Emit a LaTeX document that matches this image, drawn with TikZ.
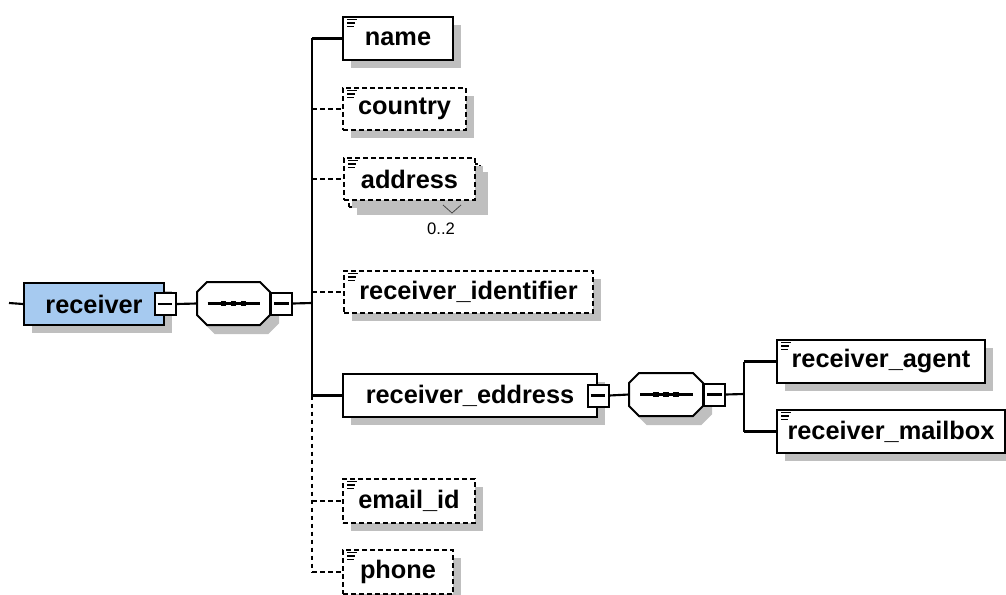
\documentclass[tikz,border=0pt]{standalone}
\usepackage{fontspec}
\setmainfont{Liberation Sans}
\usetikzlibrary{shadows}
\definecolor{rcvblue}{RGB}{166,202,240}
\tikzset{every picture/.style={line width=0.75pt},
	elem/.style={draw, line width=1.5pt, fill=white, anchor=north west, inner sep=0pt,
		font=\fontsize{19}{22}\selectfont\bfseries,
		drop shadow={shadow xshift=6pt, shadow yshift=-6pt, fill=black!25, opacity=1}},
	optelem/.style={elem, dash pattern=on 3.5pt off 2.5pt},
	seqbox/.style={inner sep=0pt, anchor=north west, minimum width=54pt, minimum height=31.5pt},
	minusbox/.style={draw, line width=1.5pt, fill=white, inner sep=0pt, minimum width=15.75pt, minimum height=16.5pt},
	conn/.style={line width=1.6pt},
	optconn/.style={conn, dash pattern=on 3.5pt off 2.5pt},
	icon/.style={line width=1.2pt}
}

\begin{document}
\begin{tikzpicture}[x=0.75pt,y=0.75pt,yscale=-1,xscale=1]
	\useasboundingbox (0,0) rectangle (1006,595);

	%Shape: Rectangle (root element)
	\node[elem, fill=rcvblue, minimum width=105pt, minimum height=31.5pt] (rcv) at (23,282) {receiver};
	\node[minusbox] (rm) at (rcv.east) {};
	% Sequence holders
	\node[seqbox] (seq1) at (197,282) {};
	\node[seqbox, minimum width=54.75pt] (seq2) at (629,373) {};

	%Shape: Octagon (sequence), shadow first
	\foreach \s in {seq1,seq2}{
		\foreach \dx/\fc/\dc in {8/black!25/black!25, 0/white/black}
			\draw[line width=1.5pt, fill=\fc, draw=\dc]
				([shift={(10+\dx,\dx)}]\s.north west) -- ([shift={(-10+\dx,\dx)}]\s.north east)
				-- ([shift={(\dx,10+\dx)}]\s.north east) -- ([shift={(\dx,-10+\dx)}]\s.south east)
				-- ([shift={(-10+\dx,\dx)}]\s.south east) -- ([shift={(10+\dx,\dx)}]\s.south west)
				-- ([shift={(\dx,-10+\dx)}]\s.south west) -- ([shift={(\dx,10+\dx)}]\s.north west) -- cycle;
	}
	\node[minusbox, anchor=west] (sm1) at (seq1.east) {};
	\node[minusbox, anchor=west] (sm2) at (seq2.east) {};

	%Shape: Rectangle (children)
	\node[elem, minimum width=82.5pt, minimum height=32.25pt] (name) at (342,16) {name};
	\node[optelem, minimum width=92.25pt, minimum height=31.5pt] (country) at (342,87) {country};
	\node[optelem, minimum width=98.25pt, minimum height=32.25pt] (addrb) at (348,163) {};
	\node[optelem, minimum width=98.25pt, minimum height=31.5pt, drop shadow={opacity=0}] (addr) at (343,157) {address};
	\node[optelem, minimum width=186.75pt, minimum height=31.5pt] (ident) at (343,270) {receiver\_identifier};
	\node[elem, minimum width=190.5pt, minimum height=32.25pt] (edd) at (342,373) {receiver\_eddress};
	\node[minusbox] (em) at (edd.east) {};
	\node[optelem, minimum width=99pt, minimum height=33pt] (email) at (342,478) {email\_id};
	\node[optelem, minimum width=82.5pt, minimum height=33pt] (phone) at (342,549) {phone};

	%Shape: Rectangle (children of receiver_eddress)
	\node[elem, minimum width=156pt, minimum height=32.25pt] (agent) at (776,339) {receiver\_agent};
	\node[elem, minimum width=171pt, minimum height=32.25pt] (mailbox) at (776,409) {receiver\_mailbox};

	% Occurrence label
	\draw[line width=0.6pt, black!70] ([shift={(95,-3)}]addrb.south west) -- ++(9,8) -- ++(9,-8);
	\node[font=\fontsize{12.5}{14}\selectfont] (occ) at (441,229) {0..2};

	% Minus signs
	\foreach \m in {rm,sm1,em,sm2}{
		\draw[conn] (\m.center) +(-5.5pt,0) -- +(5.5pt,0);
	}
	% Sequence marks
	\foreach \s in {seq1,seq2}{
		\draw[conn] ([xshift=-19.5pt]\s.center) -- ([xshift=20pt]\s.center);
		\foreach \d in {-7.5pt,0pt,7.5pt}
			\fill ([xshift=\d]\s.center) ++(-1.9pt,-1.9pt) rectangle ++(3.8pt,3.8pt);
	}
	% Element icons
	\foreach \n in {name,country,addr,ident,email,phone,agent,mailbox}{
		\draw[icon] ([shift={(5,3.5)}]\n.north west) -- ++(10,0);
		\draw[icon] ([shift={(5,7)}]\n.north west) -- ++(8,0);
		\draw[icon] ([shift={(5,10.5)}]\n.north west) -- ++(7,0);
	}

	% Connectors
	\coordinate (src) at (9,303);
	\coordinate (tr) at (312,303);
	\coordinate (tr2) at (744,394);
	\draw[conn] (src) -- (rcv.west);
	\draw[conn] (rm.east) -- (seq1.west);
	\draw[conn] (sm1.east) -- (tr);
	\draw[conn] (name.west -| tr) -- (edd.west -| tr);
	\draw[optconn] (edd.west -| tr) -- (phone.west -| tr);
	\draw[conn] (name.west -| tr) -- (name.west);
	\draw[optconn] (country.west -| tr) -- (country.west);
	\draw[optconn] (addr.west -| tr) -- (addr.west);
	\draw[optconn] (ident.west -| tr) -- (ident.west);
	\draw[conn] (edd.west -| tr) -- (edd.west);
	\draw[optconn] (email.west -| tr) -- (email.west);
	\draw[optconn] (phone.west -| tr) -- (phone.west);
	\draw[conn] (em.east) -- (seq2.west);
	\draw[conn] (sm2.east) -- (tr2);
	\draw[conn] (agent.west -| tr2) -- (mailbox.west -| tr2);
	\draw[conn] (agent.west -| tr2) -- (agent.west);
	\draw[conn] (mailbox.west -| tr2) -- (mailbox.west);

\end{tikzpicture}
\end{document}
